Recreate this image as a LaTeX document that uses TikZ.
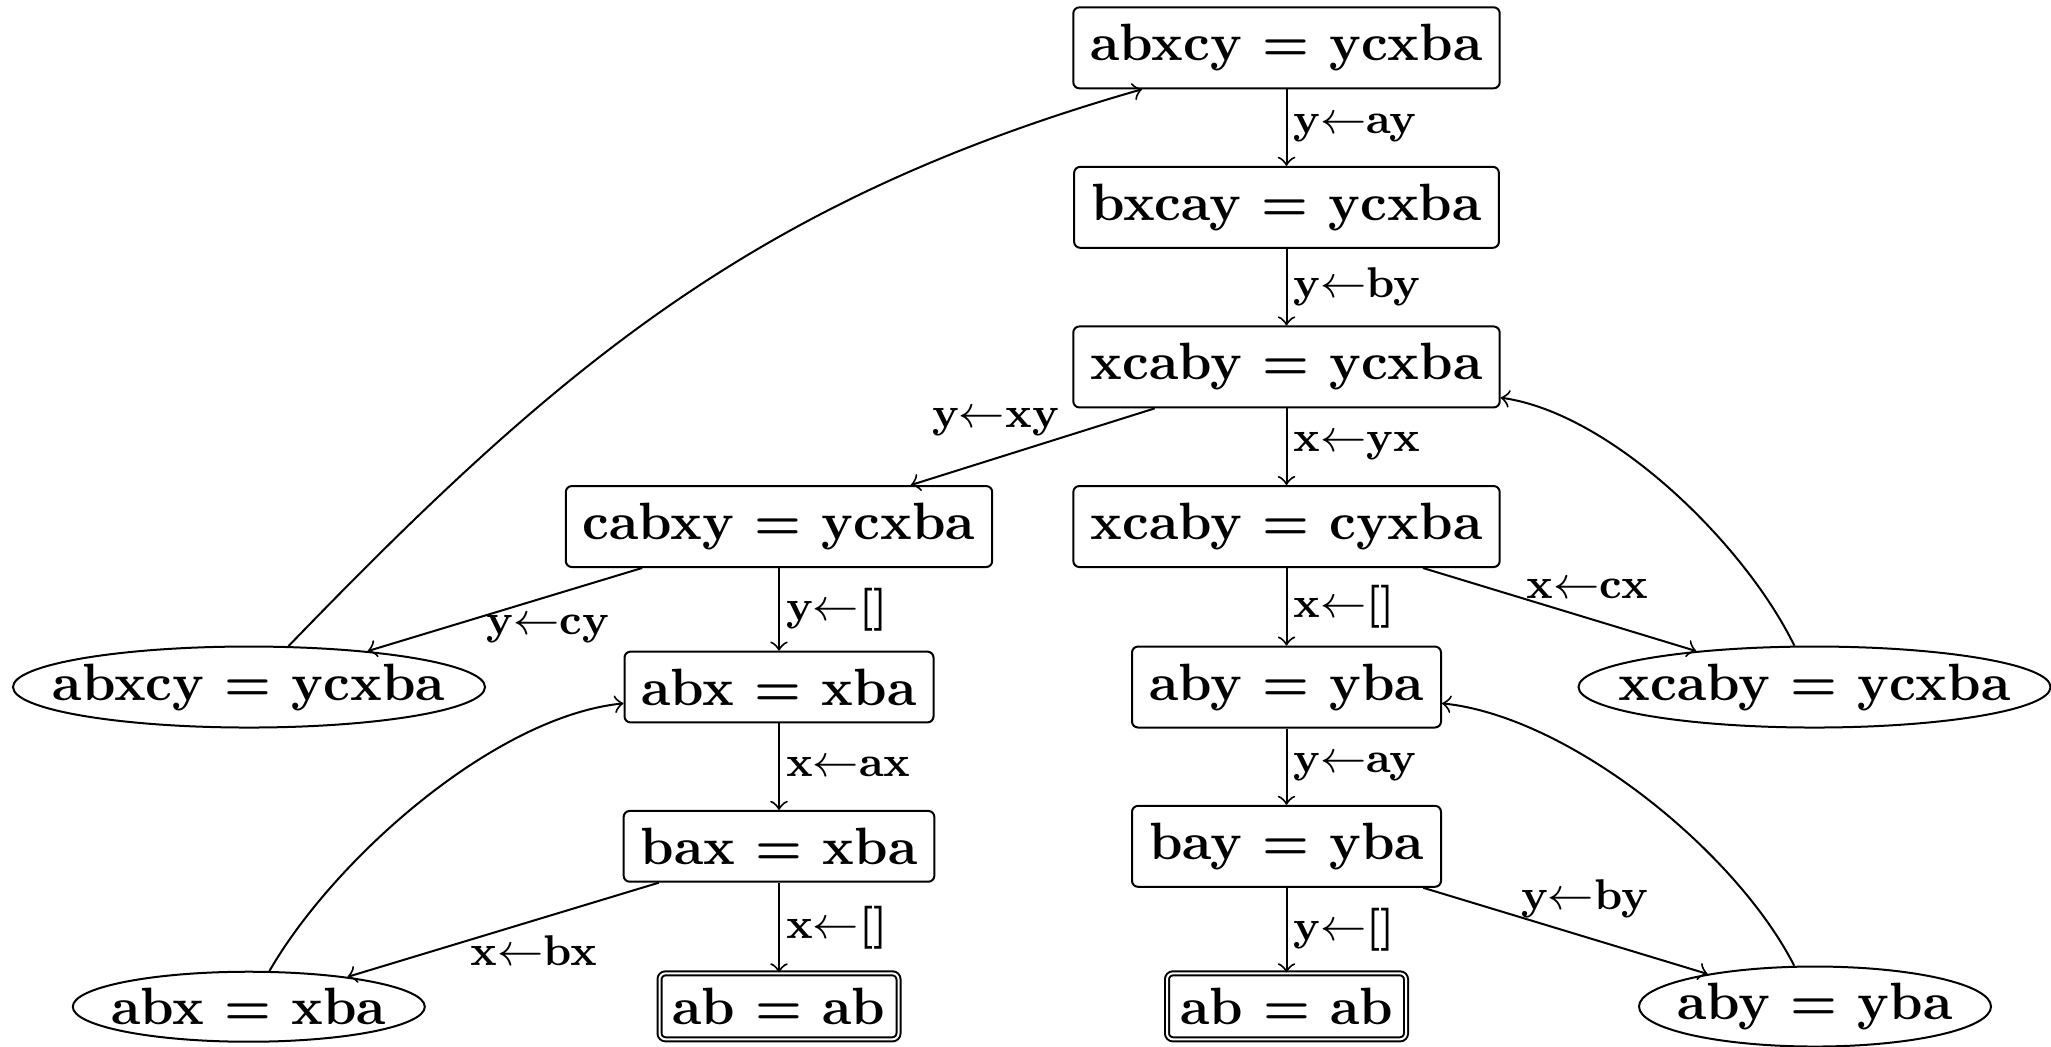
\documentclass[tikz,border=0pt]{standalone}
\usetikzlibrary{shapes.geometric}
\newcommand{\nfont}{\fontsize{10.5}{12}\selectfont\bfseries}
\newcommand{\lfont}{\fontsize{8.6}{10}\selectfont\bfseries}
\tikzset{
  box/.style={draw, rounded corners=1.2pt, inner xsep=3.4pt, inner ysep=3.4pt, font=\nfont},
  goal/.style={draw, double, double distance=0.4pt, rounded corners=1.2pt, inner sep=0pt,
    minimum width=47.8pt, minimum height=13.2pt, font=\nfont},
  ell/.style={draw, ellipse, inner sep=0pt},
  elab/.style={font=\lfont, inner sep=1.2pt},
  every label/.style={font=\nfont, inner sep=0pt},
  conn/.style={->},
}
\begin{document}
\begin{tikzpicture}[x=0.2pt, y=-0.2pt]
\useasboundingbox (0,0) rectangle (2051,1046);
\node[box] (n1) at (1286.5,47.8) {abxcy = ycxba};
\node[box] (n2) at (1286.5,207.3) {bxcay = ycxba};
\node[box] (n3) at (1286.5,366.9) {xcaby = ycxba};
\node[box] (n4) at (779,526.5) {cabxy = ycxba};
\node[box] (n5) at (1286.5,526.5) {xcaby = cyxba};
\node[ell, minimum width=94.4pt, minimum height=16.2pt, label=center:{abxcy = ycxba}] (e1) at (249,687) {};
\node[box] (n6) at (779,687) {abx = xba};
\node[box] (n7) at (1286.5,687) {aby = yba};
\node[ell, minimum width=94.4pt, minimum height=16.2pt, label=center:{xcaby = ycxba}] (e2) at (1814.5,687) {};
\node[box] (n8) at (779,846.3) {bax = xba};
\node[box] (n9) at (1286.5,846.3) {bay = yba};
\node[ell, minimum width=70.4pt, minimum height=14pt, label=center:{abx = xba}] (e3) at (248.8,1006.7) {};
\node[goal] (d1) at (779,1006.3) {ab = ab};
\node[goal] (d2) at (1286.5,1006.3) {ab = ab};
\node[ell, minimum width=70.4pt, minimum height=16pt, label=center:{aby = yba}] (e4) at (1815,1006.5) {};

\draw[conn] (n1) -- node[elab, right] {y$\leftarrow$ay} (n2);
\draw[conn] (n2) -- node[elab, right] {y$\leftarrow$by} (n3);
\draw[conn] (n3) -- node[elab, pos=0.653, shift={(0,-36.3)}] {y$\leftarrow$xy} (n4);
\draw[conn] (n3) -- node[elab, right] {x$\leftarrow$yx} (n5);
\draw[conn] (n4) -- node[elab, pos=0.344, shift={(0,32.5)}] {y$\leftarrow$cy} (e1);
\draw[conn] (n4) -- node[elab, right] {y$\leftarrow$[]} (n6);
\draw[conn] (n5) -- node[elab, right] {x$\leftarrow$[]} (n7);
\draw[conn] (n5) -- node[elab, pos=0.602, shift={(0,-29.5)}] {x$\leftarrow$cx} (e2);
\draw[conn] (n6) -- node[elab, right] {x$\leftarrow$ax} (n8);
\draw[conn] (n7) -- node[elab, right] {y$\leftarrow$ay} (n9);
\draw[conn] (n8) -- node[elab, pos=0.402, shift={(0,30.5)}] {x$\leftarrow$bx} (e3);
\draw[conn] (n8) -- node[elab, right] {x$\leftarrow$[]} (d1);
\draw[conn] (n9) -- node[elab, right] {y$\leftarrow$[]} (d2);
\draw[conn] (n9) -- node[elab, pos=0.567, shift={(0,-38)}] {y$\leftarrow$by} (e4);

\draw[conn] (e1) to[out=46, in=196] (n1);
\draw[conn] (e2) to[out=116, in=-8.5, looseness=0.75] (n3);
\draw[conn] (e3) to[out=60, in=186, looseness=0.75] (n6);
\draw[conn] (e4) to[out=117, in=-6, looseness=0.75] (n7);
\end{tikzpicture}
\end{document}
